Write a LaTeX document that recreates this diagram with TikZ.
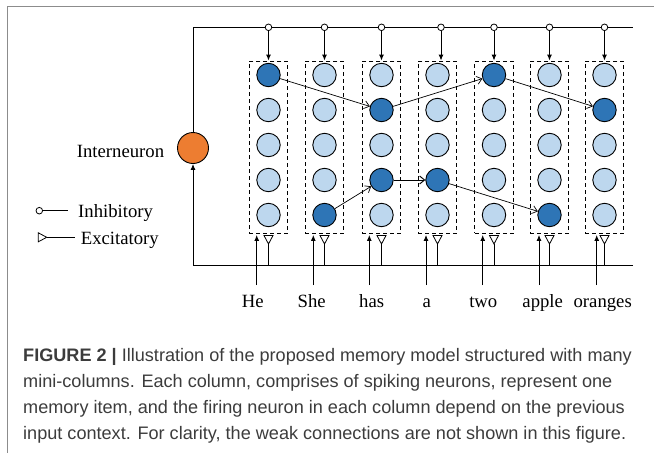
\documentclass[tikz,border=0pt]{standalone}
\usepackage{fontspec}
\setmainfont{Liberation Serif}
\newfontfamily\capfont{Liberation Sans}
\usetikzlibrary{arrows.meta}
\definecolor{lightb}{HTML}{BDD7EE}
\definecolor{darkb}{HTML}{2E75B6}
\definecolor{orng}{HTML}{ED7D31}
\definecolor{framegray}{HTML}{8C8C8C}
\definecolor{captext}{HTML}{3C3C3C}
\tikzset{
  neuron/.style={circle, draw=black, line width=0.9pt, minimum size=23.4pt, inner sep=0pt, fill=lightb},
  cell 0-0/.style={fill=darkb}, cell 1-4/.style={fill=darkb}, cell 2-1/.style={fill=darkb},
  cell 2-3/.style={fill=darkb}, cell 3-3/.style={fill=darkb}, cell 4-0/.style={fill=darkb},
  cell 5-4/.style={fill=darkb}, cell 6-1/.style={fill=darkb},
  inhdot/.style={circle, draw=black, line width=0.8pt, fill=white, minimum size=6.6pt, inner sep=0pt},
  colbox/.style={draw=black, line width=0.9pt, dash pattern=on 4pt off 3pt, minimum width=38.5pt, minimum height=172pt, inner sep=0pt},
  bus/.style={line width=1pt, draw=black},
  link/.style={-{Straight Barb[length=5pt,width=8pt]}, line width=0.7pt},
  feed/.style={-{Latex[length=6pt,width=5pt]}, line width=0.9pt},
  lbl/.style={font=\fontsize{18.7}{22}\selectfont, inner sep=0pt},
  capline/.style={anchor=base west, inner sep=0pt, text=captext, font=\capfont\fontsize{18.1}{22}\selectfont},
}
\begin{document}
\begin{tikzpicture}[x=1pt,y=-1pt]
\useasboundingbox (0,0) rectangle (654,453);
% frame
\coordinate (fr-tr) at (654,6.5);
\coordinate (fr-tl) at (7.5,6.5);
\coordinate (fr-bl) at (7.5,453);
\draw[framegray, line width=1.4pt] (fr-tr) -- (fr-tl) -- (fr-bl);
% interneuron and buses
\node[circle, draw=black, line width=0.9pt, fill=orng, minimum size=31pt, inner sep=0pt] (inter) at (193,148) {};
\coordinate (topL) at (193,27.3);
\coordinate (topR) at (633,27.3);
\coordinate (botL) at (193,265.7);
\coordinate (botR) at (633,265.7);
\draw[bus] (inter.north) -- (topL) -- (topR);
\draw[bus, feed] (botR) -- (botL) -- (inter.south);
\node[lbl, anchor=base east] (intertext) at (164.3,157.3) {Interneuron};
% columns
\foreach \c/\cx/\tx/\ax/\wx/\w in {0/268.5/268.5/256.7/252.7/He, 1/324.5/324.5/313.3/311.7/She, 2/381.5/381.5/369.3/371.7/has, 3/437.5/441/426/426.7/a, 4/494/494/482.7/483.3/two, 5/549.5/549.5/539/542.7/apple, 6/604.5/604.5/596.7/602.7/oranges}{
  \node[colbox] (box-\c) at (\cx,147) {};
  \foreach \r in {0,...,4}{
    \node[neuron, cell \c-\r/.try] (n-\c-\r) at (\cx,{75+35*\r}) {};
  }
  \node[inhdot] (inh-\c) at (\tx,27.3) {};
  \draw[feed] (inh-\c) -- (inh-\c |- box-\c.north);
  \coordinate (in-\c) at (\ax,285);
  \draw[feed] (in-\c) -- ([yshift=-1.5pt]in-\c |- box-\c.south);
  \coordinate (tip-\c) at (\cx,244);
  \draw[line width=0.8pt, fill=white] ({\cx-4.5},235.5) -- ({\cx+4.5},235.5) -- (tip-\c) -- cycle;
  \draw[line width=0.9pt] (tip-\c) -- (tip-\c |- botL);
  \node[lbl, anchor=base] (w-\c) at (\wx,307.3) {\w};
}
% strong links
\draw[link] (n-0-0) -- (n-2-1);
\draw[link] (n-1-4) -- (n-2-3);
\draw[link] (n-2-1) -- (n-4-0);
\draw[link, line width=0.95pt] (n-2-3) -- (n-3-3);
\draw[link] (n-3-3) -- (n-5-4);
\draw[link] (n-4-0) -- (n-6-1);
% legend
\node[inhdot] (leg-inh) at (39.3,210.7) {};
\coordinate (leg-inh-e) at (68,210.7);
\draw[line width=0.9pt] (leg-inh) -- (leg-inh-e);
\node[lbl, anchor=base west] (leg-inh-t) at (78,217.3) {Inhibitory};
\coordinate (leg-exc-tip) at (46.7,237.3);
\coordinate (leg-exc-e) at (75,237.3);
\draw[line width=0.8pt, fill=white] (38.3,232.8) -- (38.3,241.8) -- (leg-exc-tip) -- cycle;
\draw[line width=0.9pt] (leg-exc-tip) -- (leg-exc-e);
\node[lbl, anchor=base west] (leg-exc-t) at (80.7,244) {Excitatory};
% caption
\node[capline] (cap1) at (23,361) {\textbf{FIGURE 2 |} Illustration of the proposed memory model structured with many};
\node[capline] (cap2) at (23,387) {mini-columns. Each column, comprises of spiking neurons, represent one};
\node[capline] (cap3) at (23,413) {memory item, and the firing neuron in each column depend on the previous};
\node[capline] (cap4) at (23,439) {input context. For clarity, the weak connections are not shown in this figure.};
\end{tikzpicture}
\end{document}
